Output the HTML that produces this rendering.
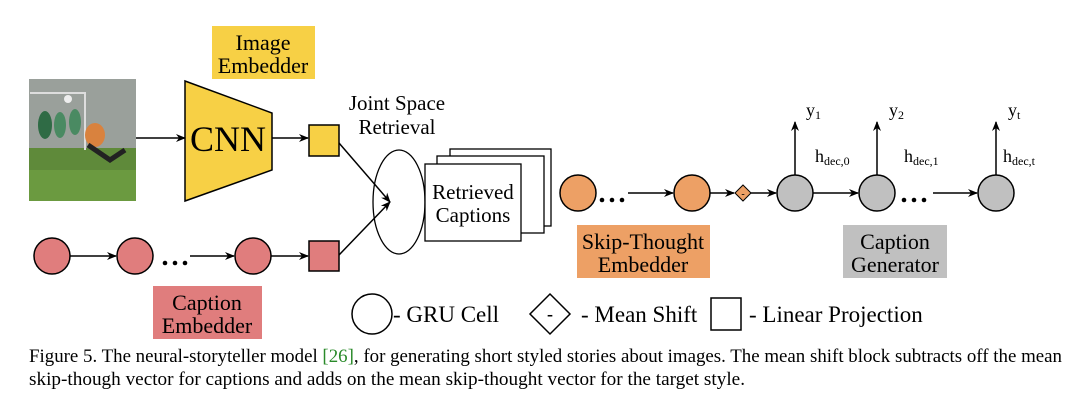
<!DOCTYPE html>
<html><head><meta charset="utf-8"><style>
html,body{margin:0;padding:0;background:#fff;}
svg{display:block;font-family:"Liberation Serif",serif;}
</style></head><body>
<svg width="1080" height="409" viewBox="0 0 1080 409" xmlns="http://www.w3.org/2000/svg">
<defs>
<marker id="a" markerWidth="10" markerHeight="8" refX="9" refY="4" orient="auto" markerUnits="userSpaceOnUse"><path d="M0,0 L10,4 L0,8 L3,4 Z" fill="#000"/></marker>
</defs>
<!-- photo -->
<rect x="29" y="79" width="107" height="122" fill="#8a8f8c"/>
<rect x="29" y="79" width="107" height="70" fill="#9aa09b"/>
<rect x="29" y="148" width="107" height="53" fill="#5f8a3a"/>
<rect x="29" y="170" width="107" height="31" fill="#6b9a40"/>
<path d="M30,93 H85 V150" fill="none" stroke="#ddd" stroke-width="2"/>
<ellipse cx="45" cy="125" rx="7" ry="14" fill="#2f6b45"/>
<ellipse cx="60" cy="125" rx="6" ry="13" fill="#4a8a62"/>
<ellipse cx="75" cy="122" rx="6" ry="13" fill="#4a8a62"/>
<ellipse cx="95" cy="135" rx="10" ry="12" fill="#d9823e"/>
<path d="M88,145 L110,160 L125,150" stroke="#222" stroke-width="5" fill="none"/>
<circle cx="68" cy="99" r="4" fill="#eee"/>
<!-- CNN -->
<line x1="136" y1="138" x2="185" y2="138" stroke="#000" stroke-width="1.5" marker-end="url(#a)"/>
<polygon points="185,81 272,113 272,170 185,201" fill="#f7d045" stroke="#000" stroke-width="1.5"/>
<text x="228" y="151" font-size="36" text-anchor="middle">CNN</text>
<rect x="212" y="26" width="103" height="53" fill="#f7d045"/>
<text x="263" y="50" font-size="22" text-anchor="middle">Image</text>
<text x="263" y="73" font-size="22" text-anchor="middle">Embedder</text>
<line x1="272" y1="138" x2="308" y2="138" stroke="#000" stroke-width="1.5" marker-end="url(#a)"/>
<rect x="309" y="125" width="30" height="31" fill="#f7d045" stroke="#000" stroke-width="1.5"/>
<!-- joint space -->
<text x="397" y="110" font-size="21" text-anchor="middle">Joint Space</text>
<text x="397" y="134" font-size="21" text-anchor="middle">Retrieval</text>
<ellipse cx="399" cy="202" rx="26" ry="52" fill="none" stroke="#000" stroke-width="1.3"/>
<line x1="339" y1="143" x2="390" y2="202" stroke="#000" stroke-width="1.5" marker-end="url(#a)"/>
<line x1="339" y1="255" x2="390" y2="202" stroke="#000" stroke-width="1.5" marker-end="url(#a)"/>
<!-- caption embedder -->
<g fill="#e07d7d" stroke="#000" stroke-width="1.5">
<circle cx="52" cy="256" r="18"/><circle cx="135" cy="256" r="18"/><circle cx="253" cy="256" r="18"/>
</g>
<line x1="70" y1="256" x2="116" y2="256" stroke="#000" stroke-width="1.5" marker-end="url(#a)"/>
<g fill="#000"><circle cx="165" cy="263" r="2.3"/><circle cx="175" cy="263" r="2.3"/><circle cx="185" cy="263" r="2.3"/></g>
<line x1="190" y1="256" x2="234" y2="256" stroke="#000" stroke-width="1.5" marker-end="url(#a)"/>
<line x1="271" y1="256" x2="308" y2="256" stroke="#000" stroke-width="1.5" marker-end="url(#a)"/>
<rect x="309" y="241" width="30" height="30" fill="#e07d7d" stroke="#000" stroke-width="1.5"/>
<rect x="153" y="286" width="109" height="53" fill="#e07d7d"/>
<text x="207" y="310" font-size="22" text-anchor="middle">Caption</text>
<text x="207" y="333" font-size="22" text-anchor="middle">Embedder</text>
<!-- retrieved captions -->
<g fill="#fff" stroke="#000" stroke-width="1.3">
<rect x="450" y="149" width="101" height="77"/>
<rect x="437" y="156" width="107" height="77"/>
<rect x="425" y="164" width="96" height="77"/>
</g>
<text x="473" y="199" font-size="21" text-anchor="middle">Retrieved</text>
<text x="473" y="222" font-size="21" text-anchor="middle">Captions</text>
<!-- skip thought -->
<g fill="#eda065" stroke="#000" stroke-width="1.5">
<circle cx="578" cy="193" r="18"/><circle cx="692" cy="193" r="18"/>
</g>
<g fill="#000"><circle cx="602" cy="200" r="2.3"/><circle cx="612" cy="200" r="2.3"/><circle cx="622" cy="200" r="2.3"/></g>
<line x1="628" y1="193" x2="673" y2="193" stroke="#000" stroke-width="1.5" marker-end="url(#a)"/>
<line x1="710" y1="193" x2="734" y2="193" stroke="#000" stroke-width="1.5" marker-end="url(#a)"/>
<polygon points="743,185 751,193 743,201 735,193" fill="#eda065" stroke="#000" stroke-width="1"/>
<text x="743" y="197" font-size="10" text-anchor="middle">-</text>
<line x1="751" y1="193" x2="776" y2="193" stroke="#000" stroke-width="1.5" marker-end="url(#a)"/>
<rect x="577" y="225" width="133" height="53" fill="#eda065"/>
<text x="643" y="249" font-size="22" text-anchor="middle">Skip-Thought</text>
<text x="643" y="272" font-size="22" text-anchor="middle">Embedder</text>
<!-- caption generator -->
<g fill="#c0c0c0" stroke="#000" stroke-width="1.5">
<circle cx="795" cy="193" r="18"/><circle cx="877" cy="193" r="18"/><circle cx="996" cy="193" r="18"/>
</g>
<line x1="813" y1="193" x2="858" y2="193" stroke="#000" stroke-width="1.5" marker-end="url(#a)"/>
<g fill="#000"><circle cx="904" cy="200" r="2.3"/><circle cx="914" cy="200" r="2.3"/><circle cx="924" cy="200" r="2.3"/></g>
<line x1="933" y1="193" x2="977" y2="193" stroke="#000" stroke-width="1.5" marker-end="url(#a)"/>
<g stroke="#000" stroke-width="1.5">
<line x1="795" y1="175" x2="795" y2="122" marker-end="url(#a)"/>
<line x1="877" y1="175" x2="877" y2="122" marker-end="url(#a)"/>
<line x1="996" y1="175" x2="996" y2="122" marker-end="url(#a)"/>
</g>
<g font-size="18">
<text x="806" y="116">y<tspan font-size="12" dy="3">1</tspan></text>
<text x="889" y="116">y<tspan font-size="12" dy="3">2</tspan></text>
<text x="1008" y="116">y<tspan font-size="12" dy="3">t</tspan></text>
<text x="815" y="162">h<tspan font-size="12" dy="3">dec,0</tspan></text>
<text x="904" y="162">h<tspan font-size="12" dy="3">dec,1</tspan></text>
<text x="1003" y="162">h<tspan font-size="12" dy="3">dec,t</tspan></text>
</g>
<rect x="843" y="225" width="104" height="53" fill="#c0c0c0"/>
<text x="895" y="249" font-size="22" text-anchor="middle">Caption</text>
<text x="895" y="272" font-size="22" text-anchor="middle">Generator</text>
<!-- legend -->
<circle cx="372" cy="314" r="20" fill="#fff" stroke="#000" stroke-width="1.5"/>
<text x="393" y="322" font-size="23">- GRU Cell</text>
<polygon points="550,294 570,314 550,334 530,314" fill="#fff" stroke="#000" stroke-width="1.5"/>
<text x="550" y="320" font-size="18" text-anchor="middle" font-weight="bold">-</text>
<text x="581" y="322" font-size="23">- Mean Shift</text>
<rect x="711" y="298" width="30" height="32" fill="#fff" stroke="#000" stroke-width="1.5"/>
<text x="749" y="322" font-size="23">- Linear Projection</text>
<!-- caption -->
<text x="29" y="362" font-size="18.5" textLength="1033" lengthAdjust="spacingAndGlyphs">Figure 5. The neural-storyteller model <tspan fill="#2a8a2a">[26]</tspan>, for generating short styled stories about images. The mean shift block subtracts off the mean</text>
<text x="29" y="385" font-size="18.5" textLength="716" lengthAdjust="spacingAndGlyphs">skip-though vector for captions and adds on the mean skip-thought vector for the target style.</text>
</svg>
</body></html>
